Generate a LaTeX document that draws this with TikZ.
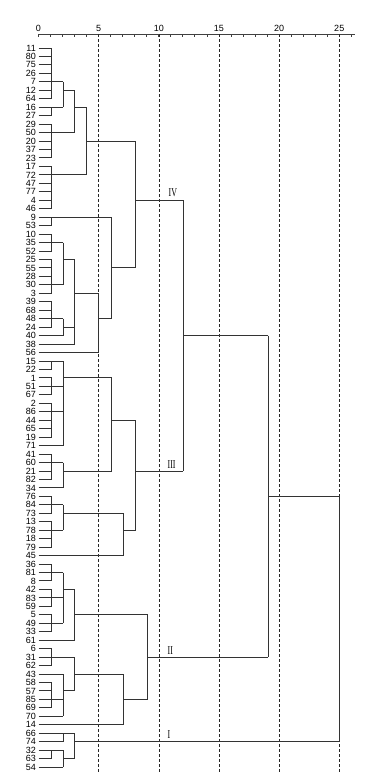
\documentclass[tikz,border=0pt]{standalone}
\usepackage{fontspec}
\setmainfont{Liberation Sans}
\newfontfamily\numfont{Liberation Serif}
\begin{document}
\begin{tikzpicture}[x=1pt,y=-1pt,
	declare function={px(\d)=38.5+12.03*\d; py(\k)=48+(\k-1)*8.46;},
	branch/.style={draw=black!80,line width=1pt},
	guide/.style={draw=black!85,line width=.6pt,dash pattern=on 3pt off 2pt},
	axisline/.style={draw=black!75,line width=1pt},
	leaflabel/.style={anchor=east,inner sep=0pt,font=\fontsize{9}{9}\selectfont},
	ticklabel/.style={anchor=base,inner sep=0pt,font=\fontsize{9}{9}\selectfont},
	cluster/.style={anchor=base west,inner sep=0pt,font=\numfont\fontsize{12}{12}\selectfont}]
	\useasboundingbox (0,0) rectangle (370,780);
	% axis
	\draw[axisline] ({px(0)},34.3) -- (355,34.3);
	\foreach \t in {0,...,26}
		\draw[axisline,line width=.8pt] ({px(\t)},34.3) -- ++(0,2.5);
	\foreach \t in {0,5,...,25}
		\node[ticklabel] (t\t) at ({px(\t)},31.5) {\t};
	\foreach \t in {5,10,...,25}
		\draw[guide] ({px(\t)},34.3) -- ({px(\t)},772);
	% rows and levels
	\foreach \k in {1,...,86}
		\coordinate (r\k) at ({px(0)},{py(\k)});
	\foreach \n/\d in {la/1.1,lb/2.06,lc/3.03,ld/4.0,le/4.97,lf/6.08,lg/7.05,lh/8.08,li/9.08,lm/12.04,ls/19.1,lt/25.06}
		\coordinate (\n) at ({px(\d)},0);
	% leaves
	\foreach \lab [count=\k] in {11,80,75,26,7,12,64,16,27,29,50,20,37,23,17,72,47,77,4,46,
		9,53,10,35,52,25,55,28,30,3,39,68,48,24,40,38,56,
		15,22,1,51,67,2,86,44,65,19,71,41,60,21,82,34,76,84,73,13,78,18,79,45,
		36,81,8,42,83,59,5,49,33,61,6,31,62,43,58,57,85,69,70,14,66,74,32,63,54}
		\node[leaflabel] (n\k) at ({px(0)-2.5},{py(\k)}) {\lab};
	\foreach \ka/\kb in {1/34,38/47,49/52,54/60,62/70,72/74,76/79,84/85}
		\foreach \k in {\ka,...,\kb}
			\draw[branch] (r\k) -- (la|-r\k);
	\foreach \k/\lv in {35/lb,48/lb,53/lb,75/lb,80/lb,82/lb,83/lb,86/lb,36/lc,71/lc,37/le,61/lg,81/lg}
		\draw[branch] (r\k) -- (\lv|-r\k);
	% merges: level / first row / last row / exit row / parent level
	\foreach \lv/\ra/\rb/\rx/\pa in {
		la/1/7/5/lb, la/8/9/8/lb, lb/5/8/6/lc, la/10/14/11/lc, lc/6/11/8/ld,
		la/15/20/16/ld, ld/8/16/12/lh,
		la/21/22/21/lf, la/23/25/24/lb, la/26/30/29/lb, lb/24/29/26/lc,
		la/31/34/33/lb, lb/33/35/34/lc, lc/26/36/30/le, le/30/37/33/lf,
		lf/21/33/27/lh, lh/12/27/19/lm,
		la/38/39/38/lb, la/40/42/41/lb, la/43/47/44/lb, lb/38/48/40/lf,
		la/49/52/50/lb, lb/50/53/51/lf, lf/40/51/45/lh,
		la/54/56/55/lb, la/57/60/58/lb, lb/55/58/56/lg, lg/56/61/58/lh,
		lh/45/58/51/lm, lm/19/51/35/ls,
		la/62/64/63/lb, la/65/67/66/lb, la/68/70/69/lb, lb/63/69/65/lc,
		lc/65/71/68/li, la/72/74/73/lc, la/76/79/78/lb, lb/75/80/77/lc,
		lc/73/77/75/lg, lg/75/81/78/li, li/68/78/73/ls, ls/35/73/54/lt,
		lb/82/83/82/lc, la/84/85/84/lb, lb/84/86/85/lc, lc/82/85/83/lt}{
		\draw[branch] (\lv|-r\ra) -- (\lv|-r\rb);
		\draw[branch] (\lv|-r\rx) -- (\pa|-r\rx);
	}
	\draw[branch] (lt|-r54) -- (lt|-r83);
	% cluster numerals
	\node[cluster] (cIV) at (168.5,{py(19)-4}) {\scalebox{.66}[1]{IV}};
	\node[cluster] (cIII) at (167.5,{py(51)-2.5}) {\scalebox{.66}[1]{III}};
	\node[cluster] (cII) at (167.5,{py(73)-3}) {\scalebox{.66}[1]{II}};
	\node[cluster] (cI) at (167.5,{py(83)-3}) {\scalebox{.66}[1]{I}};
\end{tikzpicture}
\end{document}
